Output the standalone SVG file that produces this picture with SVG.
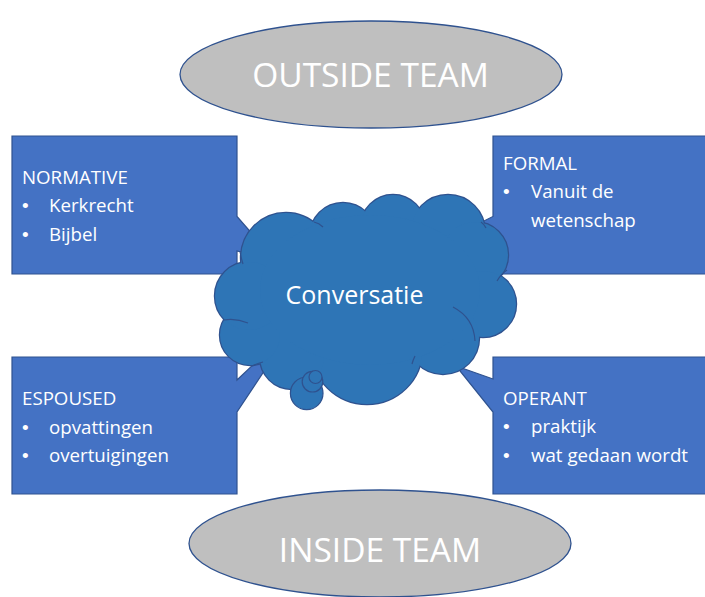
<svg xmlns="http://www.w3.org/2000/svg" xmlns:xlink="http://www.w3.org/1999/xlink" width="705" height="597" viewBox="0 0 705 597">
<style>
  .oval { fill: #BFBFBF; stroke: #2F528F; stroke-width: 1.3; }
  .oval-text { fill: #FFFFFF; font-family: "Open Sans", "Liberation Sans", sans-serif; font-size: 33.5px; text-anchor: middle; }
  .callout { fill: #4472C4; stroke: #2F528F; stroke-width: 1.2; }
  .box-text { fill: #FFFFFF; font-family: "Open Sans", "Liberation Sans", sans-serif; font-size: 18.7px; }
  .bullet { fill: #FFFFFF; font-family: "Liberation Sans", Arial, sans-serif; font-size: 19px; }
  .cloud-stroke { fill: #2E75B6; stroke: #2F528F; stroke-width: 2.4; }
  .cloud-fill { fill: #2E75B6; stroke: none; }
  .cloud-inner { fill: none; stroke: #2F528F; stroke-width: 1.2; }
  .bubble { fill: #2E75B6; stroke: #2F528F; stroke-width: 1.2; }
  .cloud-text { fill: #FFFFFF; font-family: "Open Sans", "Liberation Sans", sans-serif; font-size: 25px; text-anchor: middle; }
</style>
<defs>
  <g id="cloudLobes">
    <circle cx="286" cy="258" r="45"/>
    <circle cx="343" cy="236" r="33"/>
    <circle cx="393" cy="227" r="32"/>
    <circle cx="448" cy="232" r="37"/>
    <circle cx="475" cy="255" r="33"/>
    <circle cx="483" cy="304" r="33"/>
    <circle cx="443" cy="338" r="36"/>
    <ellipse cx="367" cy="350" rx="55" ry="54"/>
    <circle cx="292" cy="357" r="32"/>
    <circle cx="250" cy="335" r="30"/>
    <circle cx="249" cy="296" r="34"/>
    <ellipse cx="370" cy="290" rx="110" ry="75"/>
  </g>
</defs>

<g id="outside-team">
  <ellipse class="oval" cx="371" cy="74.5" rx="191" ry="53.5"/>
  <text class="oval-text" x="370.5" y="87">OUTSIDE TEAM</text>
</g>

<g id="inside-team">
  <ellipse class="oval" cx="380" cy="543.5" rx="191" ry="53.5"/>
  <text class="oval-text" x="380" y="562">INSIDE TEAM</text>
</g>

<g id="normative">
  <path class="callout" d="M12,136 H237 V216.5 L275,260 L237,251 V274 H12 Z"/>
  <text class="box-text" x="22" y="184">NORMATIVE</text>
  <text class="bullet" x="22" y="212">•</text>
  <text class="box-text" x="49" y="212">Kerkrecht</text>
  <text class="bullet" x="22" y="241">•</text>
  <text class="box-text" x="49" y="241">Bijbel</text>
</g>

<g id="formal">
  <path class="callout" d="M493,136 H718 V274 H493 V251 L430,248 L493,216.5 Z"/>
  <text class="box-text" x="503" y="170">FORMAL</text>
  <text class="bullet" x="503" y="198">•</text>
  <text class="box-text" x="531" y="198">Vanuit de</text>
  <text class="box-text" x="531" y="227">wetenschap</text>
</g>

<g id="espoused">
  <path class="callout" d="M12,357 H237 V380 L294,326 L237,412 V494 H12 Z"/>
  <text class="box-text" x="22" y="405">ESPOUSED</text>
  <text class="bullet" x="22" y="434">•</text>
  <text class="box-text" x="49" y="434">opvattingen</text>
  <text class="bullet" x="22" y="462">•</text>
  <text class="box-text" x="49" y="462">overtuigingen</text>
</g>

<g id="operant">
  <path class="callout" d="M493,357 H718 V494 H493 V412 L456,366 L493,379 Z"/>
  <text class="box-text" x="503" y="405">OPERANT</text>
  <text class="bullet" x="503" y="433">•</text>
  <text class="box-text" x="531" y="433">praktijk</text>
  <text class="bullet" x="503" y="462">•</text>
  <text class="box-text" x="531" y="462">wat gedaan wordt</text>
</g>

<g id="conversatie">
  <use xlink:href="#cloudLobes" href="#cloudLobes" class="cloud-stroke"/>
  <use xlink:href="#cloudLobes" href="#cloudLobes" class="cloud-fill"/>
  <path class="cloud-inner" d="M453,307 Q474,318 475,341"/>
  <path class="cloud-inner" d="M224,320 Q236,318 248,323"/>
  <path class="cloud-inner" d="M252,366 Q258,363 263,362"/>
  <path class="cloud-inner" d="M240,251 Q241,258 243,264"/>
  <path class="cloud-inner" d="M314,222 Q319,223 323,227"/>
  <path class="cloud-inner" d="M497,281 Q501,274 507,270"/>
  <path class="cloud-inner" d="M412,364 Q413,360 415,356"/>
  <path class="cloud-inner" d="M481,222 Q484,224 486,228"/>
  <circle class="bubble" cx="306.7" cy="393.3" r="16.3"/>
  <circle class="bubble" cx="312.5" cy="381.7" r="10.3"/>
  <circle class="bubble" cx="315.5" cy="377" r="6.5"/>
  <text class="cloud-text" x="354.5" y="304">Conversatie</text>
</g>

<g id="connectors"></g>
</svg>
